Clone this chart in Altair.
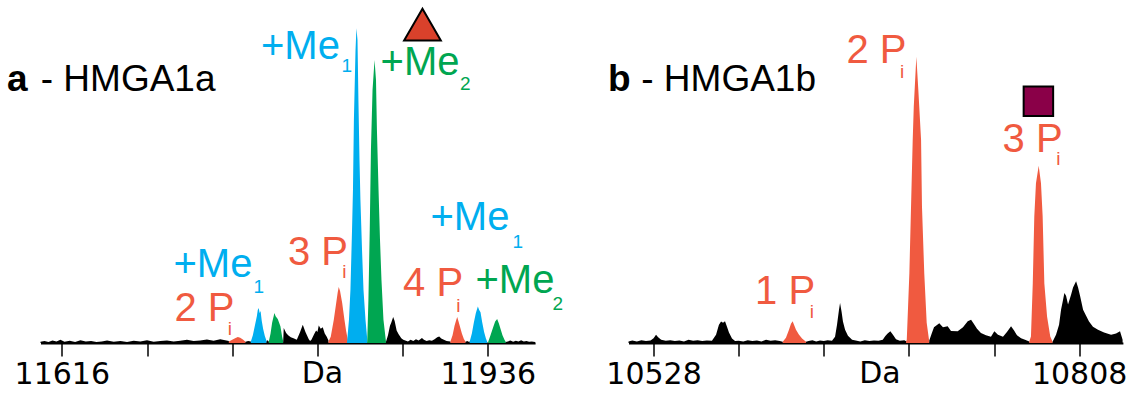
import altair as alt
import pandas as pd

BLUE = "#00AEEF"
GREEN = "#00A651"
RED = "#F05A40"
BLACK = "#000000"
TRI_FILL = "#D9412B"
SQ_FILL = "#8A0048"

# ---------------- Panel a : HMGA1a spectrum (Da, relative intensity %) ----------------
A_K1_X = [11600, 11603, 11606, 11609, 11612, 11615, 11618, 11622, 11626, 11630, 11634, 11638, 11642, 11646, 11650,
          11655, 11660, 11665, 11670, 11675, 11680, 11685, 11690, 11695, 11700, 11705, 11710, 11715, 11720, 11725,
          11730, 11735, 11741.5]
A_K1_Y = [0.4, 0.6, 0.3, 0.8, 0.5, 1.0, 0.4, 0.7, 0.3, 0.9, 0.5, 0.6, 0.3, 0.5, 0.8,
          0.4, 0.6, 0.3, 0.7, 0.5, 0.9, 0.4, 0.6, 0.8, 0.5, 0.7, 1.0, 0.6, 0.8, 1.1,
          0.7, 1.2, 0.6]
A_R1_X = [11741.5, 11744, 11746.5, 11748.2, 11750, 11752, 11754]
A_R1_Y = [0.5, 1.0, 1.6, 1.9, 1.7, 1.1, 0.4]
A_K2_X = [11754, 11756, 11758]
A_K2_Y = [0.4, 0.6, 0.5]
A_B1_X = [11758, 11759.5, 11761, 11762.5, 11763.2, 11763.9, 11764.6, 11765.3, 11766.2, 11767.2, 11768.5, 11769.8]
A_B1_Y = [0.5, 2.5, 5.5, 8.5, 10.5, 11.1, 9.5, 10.2, 7.0, 4.5, 2.2, 0.6]
A_K3_X = [11769.8, 11770.6, 11771.5]
A_K3_Y = [0.6, 0.9, 0.5]
A_G1_X = [11771.5, 11772.8, 11774, 11775.7, 11776.6, 11778.2, 11780.2, 11781.5, 11782.3]
A_G1_Y = [0.5, 3.0, 6.5, 9.5, 8.5, 7.6, 5.3, 2.0, 0.5]
A_K4_X = [11782.3, 11782.7, 11784.5, 11786, 11788, 11790, 11792.5, 11795, 11797, 11799, 11801.5, 11802.5,
          11803.5, 11805.5, 11807, 11808, 11809, 11810.5, 11812, 11813.5, 11815, 11816.3]
A_K4_Y = [0.5, 4.8, 3.2, 2.5, 1.8, 1.5, 1.0, 3.5, 5.8, 3.5, 1.2, 0.6,
          1.0, 2.8, 4.0, 3.5, 5.6, 4.5, 5.0, 3.0, 2.0, 0.8]
A_R2_X = [11816.3, 11818, 11820.3, 11822.1, 11823.2, 11824, 11825, 11826.6, 11828.3, 11829.5, 11830.8]
A_R2_Y = [0.5, 2.0, 7.4, 12.7, 16.0, 17.8, 16.5, 12.7, 7.4, 4.0, 1.0]
A_B2_X = [11830.2, 11831.7, 11832.8, 11834.0, 11834.7, 11835.4, 11836.6, 11837.3, 11838.1, 11838.8, 11839.6,
          11840.3, 11841.5, 11842.6, 11844.1, 11845.6]
A_B2_Y = [0.0, 7.4, 16.9, 36.0, 48.7, 70.9, 92.9, 100.0, 96.3, 77.2, 58.2, 45.5, 29.6, 16.9, 7.4, 0.3]
A_G2_X = [11845.4, 11846.3, 11847.3, 11848.2, 11849.4, 11850.9, 11852.0, 11852.7, 11853.9, 11855.0, 11856.1,
          11857.6, 11859.5]
A_G2_Y = [0.3, 13.7, 36.0, 61.4, 80.4, 89.9, 83.6, 67.7, 48.7, 32.8, 20.1, 7.4, 0.4]
A_K5_X = [11859.5, 11861, 11862.5, 11863.5, 11864.9, 11866, 11867.5, 11869, 11871, 11872.5,
          11874, 11876, 11878, 11880, 11882, 11884, 11886.5, 11888, 11890, 11892,
          11894, 11896, 11898, 11899.5, 11901, 11903, 11905, 11907.9]
A_K5_Y = [0.4, 2.5, 5.5, 6.5, 8.3, 7.0, 4.0, 2.8, 1.5, 1.0,
          0.8, 0.5, 1.0, 0.6, 1.2, 0.8, 1.6, 1.0, 0.6, 0.9,
          0.7, 1.2, 1.8, 2.1, 1.4, 1.0, 0.6, 0.5]
A_R3_X = [11907.9, 11909.5, 11911, 11912.2, 11913, 11914, 11915.2, 11916.5, 11918, 11919.3]
A_R3_Y = [0.5, 2.5, 5.5, 7.2, 8.3, 6.8, 5.0, 3.0, 1.3, 0.4]
A_K6_X = [11919.3, 11920.5, 11921.5, 11922.4]
A_K6_Y = [0.4, 0.6, 0.4, 0.5]
A_B3_X = [11922.4, 11924, 11925.5, 11927, 11928.5, 11929.5, 11930.5, 11931.8, 11933.2, 11934.5, 11935.5]
A_B3_Y = [0.5, 3.0, 6.5, 9.5, 11.6, 10.5, 9.8, 6.5, 3.5, 1.5, 0.4]
A_G3_X = [11936.3, 11938, 11940, 11941.5, 11943, 11944.3, 11945.5, 11947, 11948.5, 11949.5]
A_G3_Y = [0.4, 2.5, 5.0, 6.8, 7.6, 6.2, 4.5, 2.5, 1.0, 0.3]
A_K7_X = [11949.5, 11951, 11953, 11955, 11957, 11959, 11961, 11963, 11965, 11967, 11969, 11971.5]
A_K7_Y = [0.3, 0.5, 0.8, 0.4, 0.7, 0.5, 0.9, 0.5, 0.6, 0.4, 0.5, 0.3]

# ---------------- Panel b : HMGA1b spectrum ----------------
B_K1_X = [10511.5, 10514, 10517, 10520, 10523, 10526, 10528, 10529.6, 10531, 10533,
          10536, 10539, 10542, 10545, 10548, 10551, 10554, 10557, 10560, 10563,
          10566.4, 10569.1, 10571.0, 10572.4, 10573.7, 10575.0, 10576.3, 10577.6, 10579.6, 10581.6,
          10584, 10587, 10590, 10593, 10596, 10599, 10602, 10605, 10608, 10611, 10613.0]
B_K1_Y = [0.5, 0.8, 0.5, 0.9, 0.6, 0.8, 1.5, 2.6, 1.8, 1.0,
          0.7, 0.9, 0.6, 0.8, 0.5, 1.0, 0.7, 0.9, 0.6, 0.8,
          0.7, 2.6, 5.8, 6.8, 6.4, 6.9, 5.2, 3.3, 1.4, 0.6,
          0.7, 0.5, 0.9, 0.6, 0.8, 0.5, 1.0, 0.7, 0.9, 0.6, 0.4]
B_R1_X = [10613.0, 10615.1, 10617.1, 10618.4, 10619.5, 10620.4, 10621.7, 10623.7, 10625.7, 10628.3]
B_R1_Y = [0.4, 1.7, 4.2, 6.1, 6.9, 5.8, 4.2, 2.6, 1.4, 0.4]
B_K2_X = [10628.3, 10630, 10632.5, 10635, 10637.5, 10640, 10642.5, 10645.4, 10647.4, 10648.7,
          10650.0, 10650.7, 10651.7, 10652.6, 10654.0, 10655.9, 10658.6, 10661, 10664, 10667,
          10670, 10673, 10676, 10678.8, 10680.5, 10682, 10683.8, 10685.5, 10687.5, 10690,
          10693, 10694.5]
B_K2_Y = [0.4, 0.6, 0.9, 0.5, 0.8, 0.6, 0.9, 0.7, 2.0, 5.8,
          10.6, 12.7, 9.9, 6.8, 4.2, 2.3, 1.0, 0.8, 0.5, 0.9,
          0.6, 0.8, 0.7, 1.0, 2.2, 3.0, 3.7, 2.6, 1.2, 0.7,
          0.9, 0.5]
B_R2_X = [10694.1, 10694.6, 10696.3, 10697.4, 10698.5, 10699.2, 10700.9, 10702.2, 10704.0, 10704.6, 10706.1,
          10707.7, 10709.4]
B_R2_Y = [0.4, 1.0, 22.2, 43.4, 64.5, 75.1, 91.0, 80.4, 64.5, 43.4, 22.2, 6.4, 0.4]
B_K3_X = [10709.4, 10711, 10712.5, 10716.0, 10718.4, 10721.5, 10723.7, 10728.1, 10731.6, 10734.7,
          10736.9, 10738.8, 10740.8, 10743.4, 10746.7, 10750.0, 10752.2, 10754.6, 10757.9, 10760.5,
          10763.2, 10765.2, 10767.1, 10769.8, 10772.4, 10775.2]
B_K3_Y = [0.8, 3.0, 5.0, 6.3, 5.0, 5.3, 3.8, 3.7, 5.0, 6.9,
          7.4, 6.0, 4.5, 3.2, 2.5, 2.0, 3.7, 2.6, 2.0, 3.5,
          5.3, 4.0, 2.5, 1.5, 1.0, 0.5]
B_R3_X = [10775.2, 10776.3, 10777.5, 10778.5, 10779.6, 10781.4, 10782.9, 10784.0, 10785.1, 10786.9, 10789.0,
          10790.6]
B_R3_Y = [0.5, 2.1, 19.0, 40.2, 50.8, 56.3, 50.8, 40.2, 19.0, 8.4, 2.1, 0.3]
B_K4_X = [10790.6, 10792.8, 10794.8, 10796.1, 10797.4, 10798.3, 10799.4, 10800.7, 10802.7, 10804.0, 10806.0,
          10807.3, 10808.6, 10810.6, 10812.5, 10814.5, 10817.1, 10820.4, 10824.4, 10829.0, 10832.3, 10834.9,
          10836.6]
B_K4_Y = [0.5, 2.6, 5.8, 10.6, 13.7, 15.9, 15.0, 12.2, 15.3, 17.6, 19.6,
          17.6, 15.0, 10.6, 8.7, 6.8, 5.2, 4.2, 3.3, 2.6, 3.0, 3.7,
          1.0]

# ---------------- axes ----------------
A_DOMAIN = [11600, 11971.5]
B_DOMAIN = [10511.5, 10836.8]
A_TICKS = [11616, 11680, 11744, 11808, 11872, 11936]
B_TICKS = [10528, 10584, 10640, 10696, 10752, 10808]
Y_DOMAIN = [0, 109]

# ---------------- annotations ----------------
A_LAB_TEXT = ["+Me", "+Me", "+Me", "2 P", "3 P", "+Me", "4 P", "+Me"]
A_LAB_X = [11765.6, 11855.4, 11699.9, 11700.6, 11785.9, 11892.9, 11872.3, 11926.7]
A_LAB_Y = [90.2, 85.2, 21.1, 6.9, 24.9, 36.0, 14.8, 16.0]
A_LAB_COL = [BLUE, GREEN, BLUE, RED, RED, BLUE, RED, GREEN]
A_SUB_TEXT = ["1", "2", "1", "i", "i", "1", "i", "2"]
A_SUB_X = [11826.1, 11915.1, 11760.0, 11740.7, 11826.6, 11954.5, 11912.2, 11984.6]
A_SUB_Y = [86.2, 80.4, 16.0, 2.6, 20.7, 30.3, 9.9, 10.6]

B_LAB_TEXT = ["2 P", "3 P", "1 P"]
B_LAB_X = [10654.9, 10757.6, 10594.8]
B_LAB_Y = [88.9, 60.8, 12.5]
B_LAB_COL = [RED, RED, RED]
B_SUB_TEXT = ["i", "i", "i"]
B_SUB_X = [10690.1, 10792.9, 10630.7]
B_SUB_Y = [84.1, 56.6, 7.9]

A_TITLE = ["a", "- HMGA1a"]
A_TITLE_X = [11574.8, 11600.2]
B_TITLE = ["b", "- HMGA1b"]
B_TITLE_X = [10498.0, 10519.9]
TITLE_Y = [80.0, 80.0]

A_DA_X = [11811.8]
B_DA_X = [10676.9]
DA_Y = [-12.7]

A_MARK_X = [11886.9]
A_MARK_Y = [101.2]
B_MARK_X = [10781.2]
B_MARK_Y = [76.8]

A_SEGS = [(A_K1_X, A_K1_Y, BLACK), (A_R1_X, A_R1_Y, RED), (A_K2_X, A_K2_Y, BLACK), (A_B1_X, A_B1_Y, BLUE),
          (A_K3_X, A_K3_Y, BLACK), (A_G1_X, A_G1_Y, GREEN), (A_K4_X, A_K4_Y, BLACK), (A_R2_X, A_R2_Y, RED),
          (A_B2_X, A_B2_Y, BLUE), (A_G2_X, A_G2_Y, GREEN), (A_K5_X, A_K5_Y, BLACK), (A_R3_X, A_R3_Y, RED),
          (A_K6_X, A_K6_Y, BLACK), (A_B3_X, A_B3_Y, BLUE), (A_G3_X, A_G3_Y, GREEN), (A_K7_X, A_K7_Y, BLACK)]
B_SEGS = [(B_K1_X, B_K1_Y, BLACK), (B_R1_X, B_R1_Y, RED), (B_K2_X, B_K2_Y, BLACK), (B_R2_X, B_R2_Y, RED),
          (B_K3_X, B_K3_Y, BLACK), (B_R3_X, B_R3_Y, RED), (B_K4_X, B_K4_Y, BLACK)]

SANS = "Liberation Sans"
TICKFONT = "DejaVu Sans"


def seg_frame(segs):
    rows = []
    for i, (xs, ys, col) in enumerate(segs):
        for x, y in zip(xs, ys):
            rows.append({"x": x, "y": y, "seg": i, "col": col})
    return pd.DataFrame(rows)


def panel(segs, domain, ticks, lab, sub, title, title_x, da_x, mark_x, mark_y, shape, mark_fill, mark_size, width):
    first, last = ticks[0], ticks[-1]
    x_enc = alt.X(
        "x:Q",
        title=None,
        scale=alt.Scale(domain=domain, nice=False, zero=False),
        axis=alt.Axis(
            values=ticks,
            format="d",
            labelExpr=f"(datum.value == {first} || datum.value == {last}) ? datum.label : ''",
            grid=False,
            tickSize=13,
            tickWidth=1.5,
            tickColor="black",
            domainColor="black",
            domainWidth=2,
            labelFont=TICKFONT,
            labelFontSize=30,
            labelColor="black",
            labelPadding=3,
            labelFlush=False,
            labelOverlap=False,
        ),
    )
    y_enc = alt.Y("y:Q", title=None, stack=None, scale=alt.Scale(domain=Y_DOMAIN, nice=False, zero=False), axis=None)

    area = alt.Chart(seg_frame(segs)).mark_area(interpolate="linear", opacity=1).encode(
        x=x_enc, y=y_enc, detail="seg:N", color=alt.Color("col:N", scale=None)
    )

    lab_df = pd.DataFrame({"x": lab[1], "y": lab[2], "t": lab[0], "col": lab[3]})
    labels = alt.Chart(lab_df).mark_text(font=SANS, fontSize=40, align="left", baseline="alphabetic").encode(
        x=x_enc, y=y_enc, text="t:N", color=alt.Color("col:N", scale=None)
    )
    sub_df = pd.DataFrame({"x": sub[1], "y": sub[2], "t": sub[0], "col": sub[3]})
    subs = alt.Chart(sub_df).mark_text(font=SANS, fontSize=19, align="left", baseline="alphabetic").encode(
        x=x_enc, y=y_enc, text="t:N", color=alt.Color("col:N", scale=None)
    )

    t_bold = alt.Chart(pd.DataFrame({"x": [title_x[0]], "y": [TITLE_Y[0]], "t": [title[0]]})).mark_text(
        font=SANS, fontSize=37, fontWeight="bold", align="left", baseline="alphabetic", color="black"
    ).encode(x=x_enc, y=y_enc, text="t:N")
    t_rest = alt.Chart(pd.DataFrame({"x": [title_x[1]], "y": [TITLE_Y[1]], "t": [title[1]]})).mark_text(
        font=SANS, fontSize=37, align="left", baseline="alphabetic", color="black"
    ).encode(x=x_enc, y=y_enc, text="t:N")

    da = alt.Chart(pd.DataFrame({"x": da_x, "y": DA_Y, "t": ["Da"]})).mark_text(
        font=TICKFONT, fontSize=30, align="center", baseline="alphabetic", color="black"
    ).encode(x=x_enc, y=y_enc, text="t:N")

    marker = alt.Chart(pd.DataFrame({"x": mark_x, "y": mark_y})).mark_point(
        shape=shape, filled=True, fill=mark_fill, stroke="black", strokeWidth=2, size=mark_size, opacity=1
    ).encode(x=x_enc, y=y_enc)

    return alt.layer(area, labels, subs, t_bold, t_rest, da, marker).properties(width=width, height=343)


A_SUB_COL = [BLUE, GREEN, BLUE, RED, RED, BLUE, RED, GREEN]
B_SUB_COL = [RED, RED, RED]

pa = panel(A_SEGS, A_DOMAIN, A_TICKS,
           (A_LAB_TEXT, A_LAB_X, A_LAB_Y, A_LAB_COL),
           (A_SUB_TEXT, A_SUB_X, A_SUB_Y, A_SUB_COL),
           A_TITLE, A_TITLE_X, A_DA_X, A_MARK_X, A_MARK_Y, "triangle-up", TRI_FILL, 1350, 494.6)
pb = panel(B_SEGS, B_DOMAIN, B_TICKS,
           (B_LAB_TEXT, B_LAB_X, B_LAB_Y, B_LAB_COL),
           (B_SUB_TEXT, B_SUB_X, B_SUB_Y, B_SUB_COL),
           B_TITLE, B_TITLE_X, B_DA_X, B_MARK_X, B_MARK_Y, "square", SQ_FILL, 870, 494.4)

chart = alt.hconcat(pa, pb, spacing=93, bounds="flush").properties(
    padding={"left": 6.5, "top": 0, "right": 0, "bottom": 0}
).configure_view(strokeWidth=0)

chart.save("out.html", embed_options={"renderer": "svg", "actions": False})
